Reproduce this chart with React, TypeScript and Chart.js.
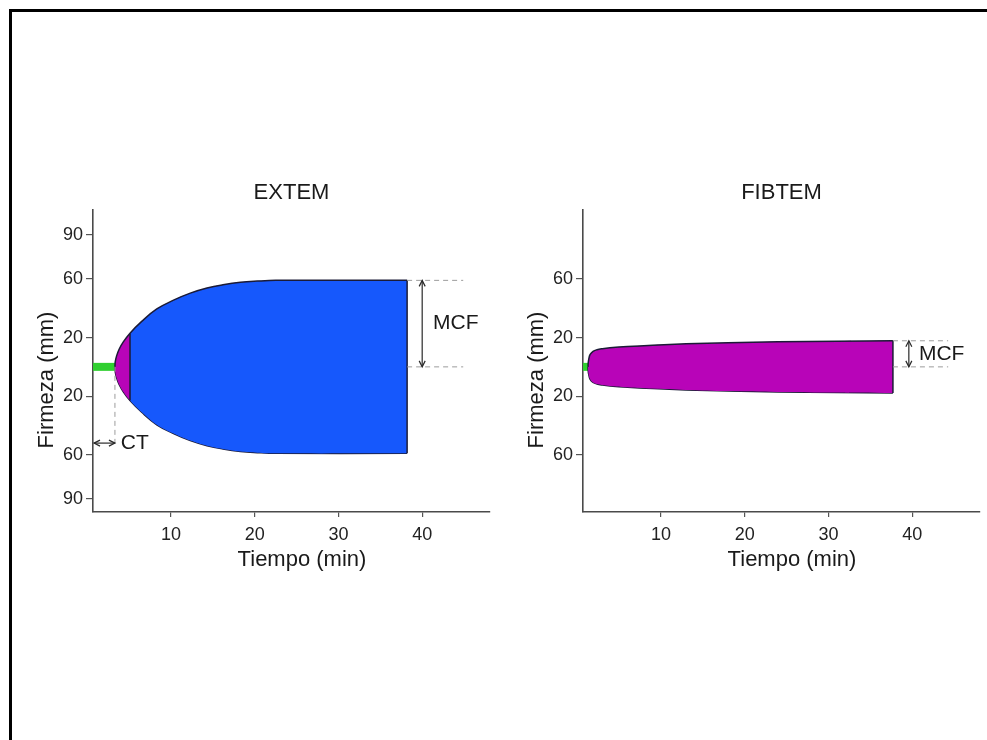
import React, { useEffect, useRef } from 'react';
import { Chart, registerables } from 'chart.js';

Chart.register(...registerables);

const FONT = '"Liberation Sans", Arial, Helvetica, sans-serif';
const BLUE = '#1658fc';
const MAGENTA = '#b804b8';
const GREEN = '#30cf30';
const OUTLINE = '#1b1b36';

// shared axes
const timeTickValues = [10, 20, 30, 40];
const timeAxisMin = 0.68;
const timeAxisMax = 48.1;
const firmAxisMin = -99;
const firmAxisMax = 107;

// EXTEM trace (minutes, mm)
const extemTime = [3.3, 3.34, 3.5, 3.8, 4.3, 5.1, 6.5, 8.3, 10.3, 12.3, 14.3, 16.2, 18.3, 20.3, 22.5, 38.2];
const extemUpper = [0, 3.5, 7.5, 12, 17, 23, 31, 39.5, 45.5, 50.3, 53.8, 56, 57.7, 58.5, 59, 59];
const extemLower = [0, -3.5, -7.5, -12, -17, -23, -31, -39.5, -45.5, -50.3, -53.8, -56, -57.7, -58.5, -59, -59];
const extemFirmTicks = [-90, -60, -20, 20, 60, 90];
const extemCT = 3.3;
const extemCFTEnd = 5.1;
const extemCFTAmp = 23;
const extemMCF = 59;
const extemEnd = 38.2;

// FIBTEM trace (minutes, mm)
const fibtemTime = [1.28, 1.3, 1.36, 1.52, 1.88, 2.35, 3.0, 3.9, 6, 9, 13, 18, 24, 31, 37.7];
const fibtemUpper = [0, 2.5, 5, 8.3, 10.6, 11.7, 12.4, 13.0, 13.9, 14.8, 15.7, 16.5, 17.1, 17.5, 17.8];
const fibtemLower = [0, -2.5, -5, -8.3, -10.6, -11.7, -12.4, -13.0, -13.9, -14.8, -15.7, -16.5, -17.1, -17.5, -17.8];
const fibtemFirmTicks = [-60, -20, 20, 60];
const fibtemCT = 1.28;
const fibtemMCF = 17.8;
const fibtemEnd = 37.7;

type Annot = {
  end: number;
  mcf: number;
  dashEnd: number;
  mcfArrowX: number;
  mcfLabelX: number;
  mcfLabelY: number;
  ct?: number;
  ctArrowY?: number;
  ctDashEnd?: number;
  ctLabelX?: number;
};

const extemAnnot: Annot = {
  end: extemEnd, mcf: extemMCF, dashEnd: 44.9, mcfArrowX: 40.0, mcfLabelX: 41.3, mcfLabelY: 29.5,
  ct: extemCT, ctArrowY: -52, ctDashEnd: -54, ctLabelX: 4.0,
};
const fibtemAnnot: Annot = {
  end: fibtemEnd, mcf: fibtemMCF, dashEnd: 44.3, mcfArrowX: 39.6, mcfLabelX: 40.8, mcfLabelY: 8.5,
};

function makeAnnotPlugin(a: Annot) {
  return {
    id: 'annot',
    afterDatasetsDraw(chart: any) {
      const { ctx, chartArea } = chart;
      const x = chart.scales.x;
      const y = chart.scales.y;
      const px = (v: number) => x.getPixelForValue(v);
      const py = (v: number) => y.getPixelForValue(v);
      const line = (x1: number, y1: number, x2: number, y2: number) => {
        ctx.beginPath();
        ctx.moveTo(x1, y1);
        ctx.lineTo(x2, y2);
        ctx.stroke();
      };
      const head = (xt: number, yt: number, dx: number, dy: number) => {
        const L = 6, W = 3;
        ctx.beginPath();
        ctx.moveTo(xt - dx * L - dy * W, yt - dy * L + dx * W);
        ctx.lineTo(xt, yt);
        ctx.lineTo(xt - dx * L + dy * W, yt - dy * L - dx * W);
        ctx.stroke();
      };
      const dbl = (x1: number, y1: number, x2: number, y2: number) => {
        line(x1, y1, x2, y2);
        const len = Math.hypot(x2 - x1, y2 - y1);
        const ux = (x2 - x1) / len, uy = (y2 - y1) / len;
        head(x2, y2, ux, uy);
        head(x1, y1, -ux, -uy);
      };
      ctx.save();
      ctx.strokeStyle = '#9c9c9c';
      ctx.lineWidth = 1;
      ctx.setLineDash([5, 4]);
      line(px(a.end), py(a.mcf), px(a.dashEnd), py(a.mcf));
      line(px(a.end), py(0), px(a.dashEnd), py(0));
      if (a.ct !== undefined) line(px(a.ct), py(0), px(a.ct), py(a.ctDashEnd as number));
      ctx.setLineDash([]);
      ctx.strokeStyle = '#2a2a2a';
      ctx.lineWidth = 1.2;
      dbl(px(a.mcfArrowX), py(a.mcf), px(a.mcfArrowX), py(0));
      if (a.ct !== undefined) dbl(chartArea.left + 1, py(a.ctArrowY as number), px(a.ct), py(a.ctArrowY as number));

      ctx.fillStyle = '#1a1a1a';
      ctx.font = `21px ${FONT}`;
      ctx.textAlign = 'left';
      ctx.textBaseline = 'middle';
      ctx.fillText('MCF', px(a.mcfLabelX), py(a.mcfLabelY));
      if (a.ct !== undefined) ctx.fillText('CT', px(a.ctLabelX as number), py(a.ctArrowY as number));

      ctx.font = `22px ${FONT}`;
      ctx.textAlign = 'center';
      ctx.textBaseline = 'alphabetic';
      ctx.fillText('Tiempo (min)', chartArea.left + 209, chartArea.bottom + 54);
      ctx.save();
      ctx.translate(chartArea.left - 40, chartArea.top + 170);
      ctx.rotate(-Math.PI / 2);
      ctx.fillText('Firmeza (mm)', 0, 0);
      ctx.restore();
      ctx.restore();
    },
  };
}

function pts(xs: number[], ys: number[]) {
  return xs.map((t, i) => ({ x: t, y: ys[i] }));
}

function buildConfig(
  title: string,
  time: number[],
  upper: number[],
  lower: number[],
  ct: number,
  mcf: number,
  end: number,
  firmTicks: number[],
  annot: Annot,
  cftEnd?: number,
  cftAmp?: number,
  mainColor?: string,
) {
  const fillColor = mainColor || BLUE;
  const datasets: any[] = [
    {
      data: pts(time, upper),
      borderColor: OUTLINE,
      borderWidth: 1.5,
      pointRadius: 0,
      tension: 0.4,
      fill: '+1',
      backgroundColor: fillColor,
      segment: cftEnd !== undefined ? {
        backgroundColor: (c: any) => (c.p0.parsed.x < cftEnd - 1e-6 ? MAGENTA : fillColor),
      } : undefined,
      order: 2,
    },
    {
      data: pts(time, lower),
      borderColor: OUTLINE,
      borderWidth: 1.5,
      pointRadius: 0,
      tension: 0.4,
      fill: false,
      order: 2,
    },
    {
      data: [{ x: end, y: mcf }, { x: end, y: -mcf }],
      borderColor: OUTLINE,
      borderWidth: 1.5,
      pointRadius: 0,
      fill: false,
      order: 1,
    },
    {
      data: [{ x: timeAxisMin, y: 0 }, { x: ct, y: 0 }],
      borderColor: GREEN,
      borderWidth: 8,
      borderCapStyle: 'butt',
      pointRadius: 0,
      fill: false,
      order: 3,
    },
  ];
  if (cftEnd !== undefined && cftAmp !== undefined) {
    datasets.push({
      data: [{ x: cftEnd, y: cftAmp }, { x: cftEnd, y: -cftAmp }],
      borderColor: OUTLINE,
      borderWidth: 1.5,
      pointRadius: 0,
      fill: false,
      order: 1,
    });
  }
  return {
    type: 'line' as const,
    data: { datasets },
    options: {
      animation: false,
      responsive: false,
      maintainAspectRatio: false,
      layout: { padding: { left: 0, right: 10, top: 0, bottom: 0 } },
      plugins: {
        legend: { display: false },
        tooltip: { enabled: false },
        title: {
          display: true,
          text: title,
          fullSize: false,
          color: '#1a1a1a',
          font: { family: FONT, size: 22, weight: 'normal' as const },
          padding: { top: 10, bottom: 3.6 },
        },
      },
      scales: {
        x: {
          type: 'linear' as const,
          min: timeAxisMin,
          max: timeAxisMax,
          afterBuildTicks: (s: any) => { s.ticks = timeTickValues.map((v) => ({ value: v })); },
          afterFit: (s: any) => { s.height = 68; },
          grid: { drawOnChartArea: false, drawTicks: true, tickLength: 5, color: '#555', lineWidth: 1.2 },
          border: { display: true, color: '#4a4a4a', width: 1.6 },
          ticks: { color: '#222', font: { family: FONT, size: 18 }, padding: 7, maxRotation: 0 },
        },
        y: {
          type: 'linear' as const,
          min: firmAxisMin,
          max: firmAxisMax,
          afterBuildTicks: (s: any) => { s.ticks = firmTicks.map((v) => ({ value: v })); },
          afterFit: (s: any) => { s.width = 73; },
          grid: { drawOnChartArea: false, drawTicks: true, tickLength: 7, color: '#555', lineWidth: 1.2 },
          border: { display: true, color: '#4a4a4a', width: 1.6 },
          ticks: {
            color: '#222',
            font: { family: FONT, size: 18 },
            padding: 3,
            callback: (v: any) => String(Math.abs(Number(v))),
          },
        },
      },
    },
    plugins: [makeAnnotPlugin(annot)],
  };
}

export default function App() {
  const ref1 = useRef<HTMLCanvasElement>(null);
  const ref2 = useRef<HTMLCanvasElement>(null);

  useEffect(() => {
    const c1 = new Chart(ref1.current as HTMLCanvasElement, buildConfig(
      'EXTEM', extemTime, extemUpper, extemLower, extemCT, extemMCF, extemEnd,
      extemFirmTicks, extemAnnot, extemCFTEnd, extemCFTAmp, BLUE,
    ) as any);
    const c2 = new Chart(ref2.current as HTMLCanvasElement, buildConfig(
      'FIBTEM', fibtemTime, fibtemUpper, fibtemLower, fibtemCT, fibtemMCF, fibtemEnd,
      fibtemFirmTicks, fibtemAnnot, undefined, undefined, MAGENTA,
    ) as any);
    return () => {
      c1.destroy();
      c2.destroy();
    };
  }, []);

  return (
    <div
      style={{
        position: 'fixed',
        left: 9,
        top: 9,
        width: 1000,
        height: 760,
        borderLeft: '3px solid #000',
        borderTop: '3px solid #000',
        background: '#fff',
        overflow: 'hidden',
      }}
    >
      <canvas ref={ref1} width={480} height={410} style={{ position: 'absolute', left: 8, top: 158, width: 480, height: 410 }} />
      <canvas ref={ref2} width={480} height={410} style={{ position: 'absolute', left: 498, top: 158, width: 480, height: 410 }} />
    </div>
  );
}
